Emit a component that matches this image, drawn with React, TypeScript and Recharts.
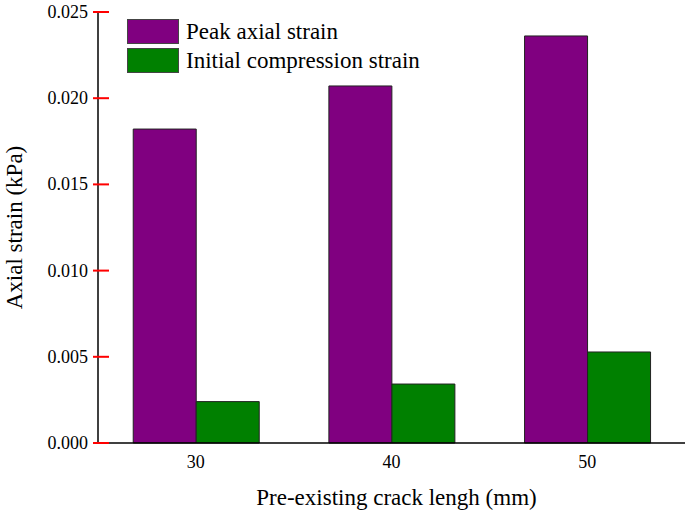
import { BarChart, Bar, XAxis, YAxis, Legend } from "recharts";

const lengths = ["30", "40", "50"];
const peakStrain = [0.01821, 0.02071, 0.02361];
const initialStrain = [0.0024, 0.00342, 0.00528];
const yTicks = [0, 0.005, 0.01, 0.015, 0.02, 0.025];
const seriesOrder = ["peak", "initial"];

const data = lengths.map((len, i) => ({
  len,
  peak: peakStrain[i],
  initial: initialStrain[i],
}));

const FONT = "'Liberation Serif', 'Times New Roman', serif";

function renderLegend(props: any) {
  const items = [...(props.payload ?? [])].sort(
    (a: any, b: any) => seriesOrder.indexOf(a.dataKey) - seriesOrder.indexOf(b.dataKey)
  );
  return (
    <div style={{ fontFamily: FONT, fontSize: 23, color: "#000" }}>
      {items.map((it: any) => (
        <div key={it.value} style={{ display: "flex", alignItems: "center", height: 29 }}>
          <div
            style={{
              width: 50,
              height: 23,
              background: it.color,
              border: "1px solid #444",
              marginRight: 7,
            }}
          />
          <span style={{ whiteSpace: "nowrap" }}>{it.value}</span>
        </div>
      ))}
    </div>
  );
}

// y tick: label to the left, short tick mark pointing into the plot
function YTick(props: any) {
  const x = Number(props.x);
  const y = Number(props.y);
  return (
    <g>
      <rect x={x + 5} y={y - 1} width={16} height={2} fill="red" />
      <text
        x={x}
        y={y}
        textAnchor="end"
        dominantBaseline="central"
        fill="#000"
        fontSize={18}
        fontFamily={FONT}
      >
        {Number(props.payload.value).toFixed(3)}
      </text>
    </g>
  );
}

export default function App() {
  return (
    <div style={{ position: "absolute", left: 0, top: 0, background: "#fff" }}>
      <BarChart
        width={685}
        height={511}
        data={data}
        margin={{ top: 12, right: 0, bottom: 0, left: 0 }}
        barCategoryGap="18%"
        barGap={0}
      >
        <XAxis
          dataKey="len"
          height={68}
          tickLine={false}
          tickSize={6}
          tickMargin={6}
          axisLine={{ stroke: "#000", strokeWidth: 1.5 }}
          tick={{ fill: "#000", fontSize: 18, fontFamily: FONT }}
          label={{
            value: "Pre-existing crack lengh (mm)",
            position: "insideBottom",
            offset: 6,
            dx: 5,
            style: { fill: "#000", fontSize: 23, fontFamily: FONT },
          }}
        />
        <YAxis
          width={98}
          domain={[0, 0.025]}
          ticks={yTicks}
          interval={0}
          tickSize={0}
          tickMargin={10}
          tickLine={false}
          axisLine={{ stroke: "#000", strokeWidth: 1.5 }}
          tick={YTick}
          label={{
            value: "Axial strain (kPa)",
            angle: -90,
            position: "insideLeft",
            offset: 14,
            style: { fill: "#000", fontSize: 23, fontFamily: FONT, textAnchor: "middle" },
          }}
        />
        <Legend
          layout="vertical"
          verticalAlign="middle"
          align="center"
          content={renderLegend}
          wrapperStyle={{ left: 127, top: 17, width: "auto" }}
        />
        <Bar
          dataKey="peak"
          name="Peak axial strain"
          fill="#800080"
          stroke="#222"
          strokeWidth={1}
          isAnimationActive={false}
        />
        <Bar
          dataKey="initial"
          name="Initial compression strain"
          fill="#008000"
          stroke="#222"
          strokeWidth={1}
          isAnimationActive={false}
        />
      </BarChart>
    </div>
  );
}
